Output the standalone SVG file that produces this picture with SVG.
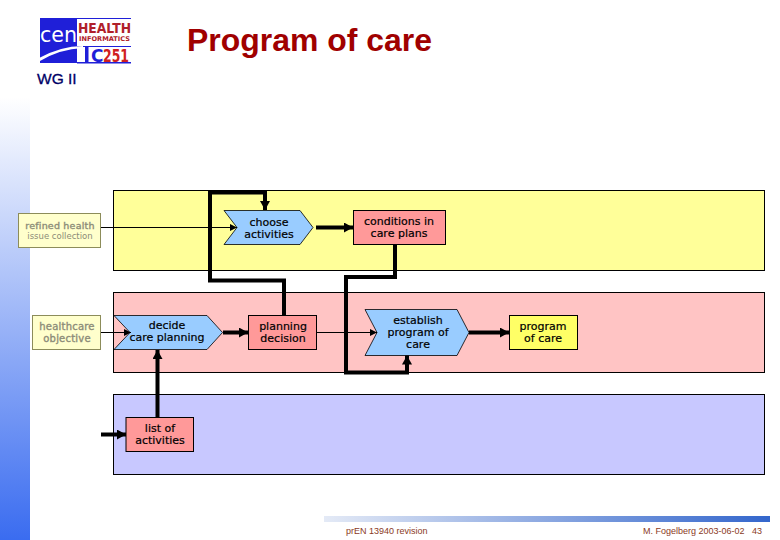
<svg xmlns="http://www.w3.org/2000/svg" width="780" height="540" viewBox="0 0 780 540">
<style>
.lane{stroke:#000;stroke-width:1}
.box{stroke:#000;stroke-width:1}
.act{fill:#99ccff;stroke:#000;stroke-width:.8}
.red{fill:#ff9999}
.yel{fill:#ffff66}
.ext{fill:#ffffcc;stroke:#8c8c5a;stroke-width:1}
text{font-family:"DejaVu Sans","Liberation Sans",sans-serif}
.t{font-size:11px;fill:#000;text-anchor:middle;stroke:#000;stroke-width:.2}
.g{font-size:10px;fill:#8c8c78;text-anchor:middle;stroke:#8c8c78;stroke-width:.35;letter-spacing:.2px}
.thin{fill:none;stroke:#000;stroke-width:1}
.thick{fill:none;stroke:#000;stroke-width:4}
.foot{font-family:"Liberation Sans",Arial,sans-serif;font-size:9px;fill:#8a3a1e}
</style>
<defs>
<linearGradient id="side" x1="0" y1="0" x2="0" y2="1"><stop offset="0" stop-color="#fff"/><stop offset=".18" stop-color="#fff"/><stop offset="1" stop-color="#3a6cf0"/></linearGradient>
<linearGradient id="bar" x1="0" y1="0" x2="1" y2="0"><stop offset="0" stop-color="#e4eaf6"/><stop offset="1" stop-color="#3366cc"/></linearGradient>
<marker id="a" markerUnits="userSpaceOnUse" markerWidth="10" markerHeight="10" refX="9" refY="5" orient="auto"><path d="M0 0L9 5L0 10z" fill="#000"/></marker>
<marker id="b" markerUnits="userSpaceOnUse" markerWidth="8" markerHeight="8" refX="7" refY="4" orient="auto"><path d="M0 .5L7 4L0 7.500z" fill="#000"/></marker>
</defs>
<rect width="780" height="540" fill="#fff"/>
<rect x="0" y="0" width="30" height="540" fill="url(#side)"/>
<g id="logo">
<rect x="40" y="18" width="37" height="45" fill="#1f1fd8"/>
<rect x="77" y="18" width="54" height="1" fill="#1f1fd8"/>
<rect x="77" y="46" width="54" height="1" fill="#1f1fd8"/>
<rect x="77" y="62" width="54" height="1.500" fill="#1f1fd8"/>
<rect x="85" y="47" width="3.500" height="15" fill="#1f1fd8"/>
<path d="M37 59Q60 46 83 46L83 48Q60 49 40 61z" fill="#fff"/>
<text x="40" y="42" font-size="21" fill="#fff" font-family="Liberation Sans" textLength="37" lengthAdjust="spacingAndGlyphs">cen</text>
<text x="78" y="33" font-size="14" font-weight="bold" fill="#b0202a" font-family="Liberation Sans" textLength="53" lengthAdjust="spacingAndGlyphs">HEALTH</text>
<text x="79" y="41" font-size="6.500" font-weight="bold" fill="#b0202a" font-family="Liberation Sans" textLength="51" lengthAdjust="spacingAndGlyphs">INFORMATICS</text>
<text x="91" y="62" font-size="17" font-weight="bold" fill="#1f1fd8" font-family="Liberation Sans">C</text>
<text x="103" y="62" font-size="17" font-weight="bold" fill="#d02020" font-family="Liberation Sans" textLength="26" lengthAdjust="spacingAndGlyphs">251</text>
</g>
<text id="title" x="187" y="51" font-size="32" font-weight="bold" fill="#a00000" style="font-family:'Liberation Sans',Arial,sans-serif" textLength="245" lengthAdjust="spacingAndGlyphs">Program of care</text>
<text id="wg" x="37" y="84" font-size="15.500" fill="#000066" style="font-family:'Liberation Sans',Arial,sans-serif" stroke="#000066" stroke-width=".3">WG II</text>
<g id="lanes">
<rect class="lane" x="113.500" y="190.500" width="651" height="80" fill="#ffff99"/>
<rect class="lane" x="113.500" y="292.500" width="651" height="80" fill="#ffc4c4"/>
<rect class="lane" x="113.500" y="394.500" width="651" height="80" fill="#c8c8ff"/>
</g>
<g id="n-refined"><rect class="ext" x="18.500" y="213.500" width="82" height="34"/><text class="g" x="60" y="229" style="font-size:9.500px">refined health</text><text x="60" y="239" font-size="8.500" fill="#8c8c78" text-anchor="middle">issue collection</text></g>
<g id="n-objective"><rect class="ext" x="32.500" y="315.500" width="68" height="34"/><text class="g" x="67" y="330">healthcare</text><text class="g" x="67" y="342">objective</text></g>
<g id="n-decide"><path class="act" d="M114 315.500H207L222.500 332.500L207 349.500H114L130 332.500z"/><text class="t" x="167" y="329">decide</text><text class="t" x="167" y="341">care planning</text></g>
<g id="n-choose"><path class="act" d="M224 210.500H300L313 227.500L300 244.500H224L237 227.500z"/><text class="t" x="269" y="226">choose</text><text class="t" x="269" y="238">activities</text></g>
<g id="n-conditions"><rect class="box red" x="353.500" y="210.500" width="92" height="34"/><text class="t" x="399" y="225">conditions in</text><text class="t" x="399" y="237">care plans</text></g>
<g id="n-planning"><rect class="box red" x="248.500" y="315.500" width="68" height="34"/><text class="t" x="283" y="330">planning</text><text class="t" x="283" y="342">decision</text></g>
<g id="n-establish"><path class="act" d="M365 309.500H457L469 332.500L457 355.500H365L377 332.500z"/><text class="t" x="418" y="324">establish</text><text class="t" x="418" y="336">program of</text><text class="t" x="418" y="348">care</text></g>
<g id="n-program"><rect class="box yel" x="509.500" y="315.500" width="68" height="34"/><text class="t" x="543" y="330">program</text><text class="t" x="543" y="342">of care</text></g>
<g id="n-list"><rect class="box red" x="126" y="417.500" width="67.500" height="34"/><text class="t" x="160" y="432">list of</text><text class="t" x="160" y="444">activities</text></g>
<g id="connectors">
<path class="thin" d="M101 227.500H237" marker-end="url(#b)"/>
<path class="thin" d="M101 332.500H131" marker-end="url(#b)"/>
<path class="thin" d="M317 332.500H377" marker-end="url(#b)"/>
<path class="thick" d="M223 332.500H248" marker-end="url(#a)"/>
<path class="thick" d="M316 227.500H353" marker-end="url(#a)"/>
<path class="thick" d="M469 332.500H509" marker-end="url(#a)"/>
<path class="thick" d="M101 434.500H126" marker-end="url(#a)"/>
<path class="thick" d="M157.500 417V350" marker-end="url(#a)"/>
<path class="thick" d="M284 315V280.500H210V192.500H265V210" marker-end="url(#a)"/>
<path class="thick" d="M395 244V277H346V372.500H407V355.500" marker-end="url(#a)"/>
</g>
<g id="footer">
<rect x="324" y="516" width="446" height="6" fill="url(#bar)"/>
<text class="foot" x="346" y="534">prEN 13940 revision</text>
<text class="foot" x="643" y="534">M. Fogelberg 2003-06-02</text>
<text class="foot" x="752" y="534">43</text>
</g>
</svg>
